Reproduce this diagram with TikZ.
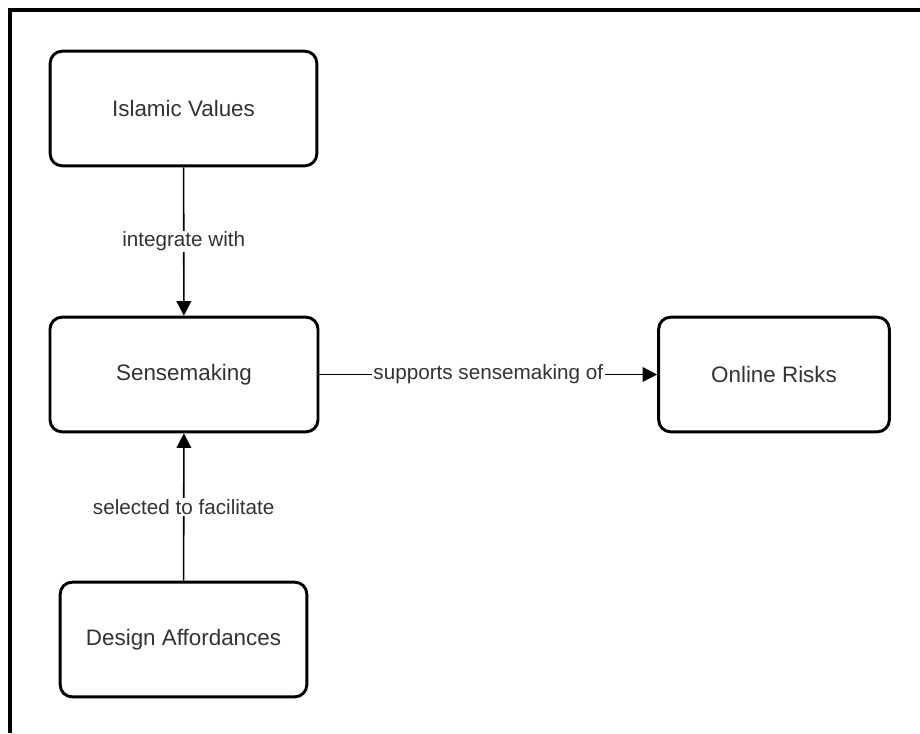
\documentclass[tikz,border=0pt]{standalone}
\usepackage{fontspec}
\setmainfont{Liberation Sans}
\usetikzlibrary{arrows.meta}

\definecolor{txtgray}{HTML}{333333}
\tikzset{
    conceptbox/.style={draw=black, line width=2.2pt, rounded corners=9pt, minimum height=86pt, text=txtgray, font=\fontsize{16.8}{20}\selectfont},
    linklabel/.style={fill=white, text=txtgray, inner sep=1pt, font=\fontsize{15.5}{18}\selectfont},
    link/.style={line width=1.2pt, -{Triangle[length=11pt,width=11pt]}}
}

\begin{document}
\begin{tikzpicture}[x=0.75pt, y=-0.75pt]
    \useasboundingbox (0,0) rectangle (920,733);
    \draw[line width=2.4pt] (920,10) -- (10,10) -- (10,733);

    \node[conceptbox, minimum width=200pt] (islamic) at (183.5,108.5) {Islamic Values};
    \node[conceptbox, minimum width=201pt] (sense) at (184,374.5) {Sensemaking};
    \node[conceptbox, minimum width=173pt] (risks) at (774,374.5) {Online Risks};
    \node[conceptbox, minimum width=185pt] (design) at (183.5,639.5) {Design Affordances};

    \draw[link] (islamic) -- node[linklabel] {integrate with} (sense);
    \draw[link] (design) -- node[linklabel] {selected to facilitate} (sense);
    \draw[link] (sense) -- node[linklabel] {supports sensemaking of} (risks);
\end{tikzpicture}
\end{document}
